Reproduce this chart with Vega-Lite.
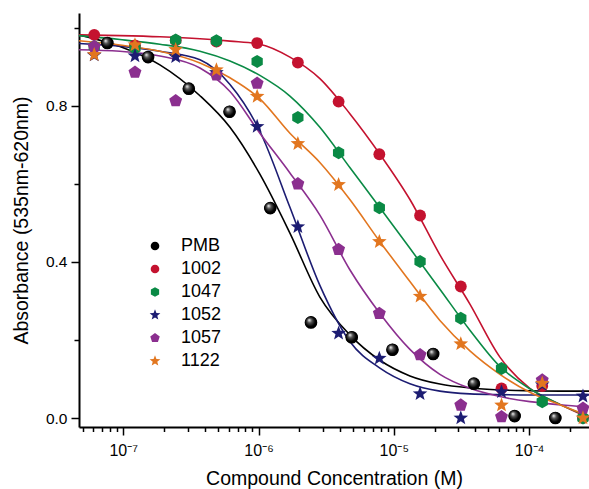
{
  "$schema": "https://vega.github.io/schema/vega-lite/v6.json",
  "width": 510,
  "height": 414,
  "autosize": {"type": "none"},
  "padding": {"left": 79, "top": 13, "right": 0, "bottom": 62},
  "background": "white",
  "config": {"view": {"stroke": null}, "font": "Liberation Sans"},
  "datasets": {
    "points": [
      {"series": "PMB", "conc": 7.629e-8, "abs": 0.961},
      {"series": "PMB", "conc": 1.526e-7, "abs": 0.925},
      {"series": "PMB", "conc": 3.052e-7, "abs": 0.844},
      {"series": "PMB", "conc": 6.104e-7, "abs": 0.785},
      {"series": "PMB", "conc": 1.221e-6, "abs": 0.538},
      {"series": "PMB", "conc": 2.441e-6, "abs": 0.245},
      {"series": "PMB", "conc": 4.883e-6, "abs": 0.207},
      {"series": "PMB", "conc": 9.766e-6, "abs": 0.175},
      {"series": "PMB", "conc": 1.953e-5, "abs": 0.164},
      {"series": "PMB", "conc": 3.906e-5, "abs": 0.088},
      {"series": "PMB", "conc": 7.8125e-5, "abs": 0.005},
      {"series": "PMB", "conc": 1.5625e-4, "abs": 0.0},
      {"series": "1002", "conc": 6.104e-8, "abs": 0.982},
      {"series": "1002", "conc": 1.221e-7, "abs": 0.955},
      {"series": "1002", "conc": 2.441e-7, "abs": 0.968},
      {"series": "1002", "conc": 4.883e-7, "abs": 0.965},
      {"series": "1002", "conc": 9.766e-7, "abs": 0.961},
      {"series": "1002", "conc": 1.953e-6, "abs": 0.911},
      {"series": "1002", "conc": 3.906e-6, "abs": 0.811},
      {"series": "1002", "conc": 7.8125e-6, "abs": 0.676},
      {"series": "1002", "conc": 1.5625e-5, "abs": 0.519},
      {"series": "1002", "conc": 3.125e-5, "abs": 0.337},
      {"series": "1002", "conc": 6.25e-5, "abs": 0.076},
      {"series": "1002", "conc": 1.25e-4, "abs": 0.082},
      {"series": "1002", "conc": 2.5e-4, "abs": 0.0},
      {"series": "1047", "conc": 6.104e-8, "abs": 0.952},
      {"series": "1047", "conc": 1.221e-7, "abs": 0.948},
      {"series": "1047", "conc": 2.441e-7, "abs": 0.969},
      {"series": "1047", "conc": 4.883e-7, "abs": 0.967},
      {"series": "1047", "conc": 9.766e-7, "abs": 0.914},
      {"series": "1047", "conc": 1.953e-6, "abs": 0.770},
      {"series": "1047", "conc": 3.906e-6, "abs": 0.680},
      {"series": "1047", "conc": 7.8125e-6, "abs": 0.539},
      {"series": "1047", "conc": 1.5625e-5, "abs": 0.401},
      {"series": "1047", "conc": 3.125e-5, "abs": 0.256},
      {"series": "1047", "conc": 6.25e-5, "abs": 0.127},
      {"series": "1047", "conc": 1.25e-4, "abs": 0.042},
      {"series": "1047", "conc": 2.5e-4, "abs": 0.0},
      {"series": "1052", "conc": 6.104e-8, "abs": 0.930},
      {"series": "1052", "conc": 1.221e-7, "abs": 0.928},
      {"series": "1052", "conc": 2.441e-7, "abs": 0.926},
      {"series": "1052", "conc": 4.883e-7, "abs": 0.885},
      {"series": "1052", "conc": 9.766e-7, "abs": 0.747},
      {"series": "1052", "conc": 1.953e-6, "abs": 0.490},
      {"series": "1052", "conc": 3.906e-6, "abs": 0.217},
      {"series": "1052", "conc": 7.8125e-6, "abs": 0.153},
      {"series": "1052", "conc": 1.5625e-5, "abs": 0.062},
      {"series": "1052", "conc": 3.125e-5, "abs": 0.0},
      {"series": "1052", "conc": 6.25e-5, "abs": 0.067},
      {"series": "1052", "conc": 1.25e-4, "abs": 0.085},
      {"series": "1052", "conc": 2.5e-4, "abs": 0.056},
      {"series": "1057", "conc": 6.104e-8, "abs": 0.952},
      {"series": "1057", "conc": 1.221e-7, "abs": 0.886},
      {"series": "1057", "conc": 2.441e-7, "abs": 0.813},
      {"series": "1057", "conc": 4.883e-7, "abs": 0.879},
      {"series": "1057", "conc": 9.766e-7, "abs": 0.858},
      {"series": "1057", "conc": 1.953e-6, "abs": 0.600},
      {"series": "1057", "conc": 3.906e-6, "abs": 0.432},
      {"series": "1057", "conc": 7.8125e-6, "abs": 0.268},
      {"series": "1057", "conc": 1.5625e-5, "abs": 0.162},
      {"series": "1057", "conc": 3.125e-5, "abs": 0.033},
      {"series": "1057", "conc": 6.25e-5, "abs": 0.003},
      {"series": "1057", "conc": 1.25e-4, "abs": 0.097},
      {"series": "1057", "conc": 2.5e-4, "abs": 0.025},
      {"series": "1122", "conc": 6.104e-8, "abs": 0.931},
      {"series": "1122", "conc": 1.221e-7, "abs": 0.956},
      {"series": "1122", "conc": 2.441e-7, "abs": 0.944},
      {"series": "1122", "conc": 4.883e-7, "abs": 0.892},
      {"series": "1122", "conc": 9.766e-7, "abs": 0.824},
      {"series": "1122", "conc": 1.953e-6, "abs": 0.703},
      {"series": "1122", "conc": 3.906e-6, "abs": 0.598},
      {"series": "1122", "conc": 7.8125e-6, "abs": 0.452},
      {"series": "1122", "conc": 1.5625e-5, "abs": 0.312},
      {"series": "1122", "conc": 3.125e-5, "abs": 0.190},
      {"series": "1122", "conc": 6.25e-5, "abs": 0.033},
      {"series": "1122", "conc": 1.25e-4, "abs": 0.089},
      {"series": "1122", "conc": 2.5e-4, "abs": 0.0}
    ],
    "curves": [
      {"series": "PMB", "conc": 4.71e-8, "abs": 0.982},
      {"series": "PMB", "conc": 9.46e-8, "abs": 0.952},
      {"series": "PMB", "conc": 1.866e-7, "abs": 0.905},
      {"series": "PMB", "conc": 3.69e-7, "abs": 0.826},
      {"series": "PMB", "conc": 6.15e-7, "abs": 0.745},
      {"series": "PMB", "conc": 1.023e-6, "abs": 0.625},
      {"series": "PMB", "conc": 1.706e-6, "abs": 0.474},
      {"series": "PMB", "conc": 2.84e-6, "abs": 0.31},
      {"series": "PMB", "conc": 4.73e-6, "abs": 0.213},
      {"series": "PMB", "conc": 7.89e-6, "abs": 0.148},
      {"series": "PMB", "conc": 1.315e-5, "abs": 0.108},
      {"series": "PMB", "conc": 2.19e-5, "abs": 0.087},
      {"series": "PMB", "conc": 3.65e-5, "abs": 0.077},
      {"series": "PMB", "conc": 6.08e-5, "abs": 0.072},
      {"series": "PMB", "conc": 1.012e-4, "abs": 0.070},
      {"series": "PMB", "conc": 1.687e-4, "abs": 0.069},
      {"series": "PMB", "conc": 2.77e-4, "abs": 0.069},
      {"series": "1002", "conc": 4.71e-8, "abs": 0.982},
      {"series": "1002", "conc": 9.46e-8, "abs": 0.98},
      {"series": "1002", "conc": 1.866e-7, "abs": 0.977},
      {"series": "1002", "conc": 3.69e-7, "abs": 0.972},
      {"series": "1002", "conc": 6.15e-7, "abs": 0.966},
      {"series": "1002", "conc": 1.023e-6, "abs": 0.958},
      {"series": "1002", "conc": 1.706e-6, "abs": 0.925},
      {"series": "1002", "conc": 2.84e-6, "abs": 0.87},
      {"series": "1002", "conc": 4.73e-6, "abs": 0.78},
      {"series": "1002", "conc": 7.89e-6, "abs": 0.676},
      {"series": "1002", "conc": 1.315e-5, "abs": 0.56},
      {"series": "1002", "conc": 2.19e-5, "abs": 0.418},
      {"series": "1002", "conc": 3.65e-5, "abs": 0.292},
      {"series": "1002", "conc": 6.08e-5, "abs": 0.156},
      {"series": "1002", "conc": 1.012e-4, "abs": 0.076},
      {"series": "1002", "conc": 1.687e-4, "abs": 0.035},
      {"series": "1002", "conc": 2.77e-4, "abs": 0.0},
      {"series": "1047", "conc": 4.71e-8, "abs": 0.98},
      {"series": "1047", "conc": 9.46e-8, "abs": 0.97},
      {"series": "1047", "conc": 1.866e-7, "abs": 0.958},
      {"series": "1047", "conc": 3.69e-7, "abs": 0.94},
      {"series": "1047", "conc": 6.15e-7, "abs": 0.915},
      {"series": "1047", "conc": 1.023e-6, "abs": 0.878},
      {"series": "1047", "conc": 1.706e-6, "abs": 0.825},
      {"series": "1047", "conc": 2.84e-6, "abs": 0.745},
      {"series": "1047", "conc": 4.73e-6, "abs": 0.642},
      {"series": "1047", "conc": 7.89e-6, "abs": 0.539},
      {"series": "1047", "conc": 1.315e-5, "abs": 0.435},
      {"series": "1047", "conc": 2.19e-5, "abs": 0.33},
      {"series": "1047", "conc": 3.65e-5, "abs": 0.225},
      {"series": "1047", "conc": 6.08e-5, "abs": 0.132},
      {"series": "1047", "conc": 1.012e-4, "abs": 0.075},
      {"series": "1047", "conc": 1.687e-4, "abs": 0.035},
      {"series": "1047", "conc": 2.77e-4, "abs": 0.003},
      {"series": "1052", "conc": 4.71e-8, "abs": 0.96},
      {"series": "1052", "conc": 9.46e-8, "abs": 0.953},
      {"series": "1052", "conc": 1.866e-7, "abs": 0.94},
      {"series": "1052", "conc": 3.69e-7, "abs": 0.918},
      {"series": "1052", "conc": 6.15e-7, "abs": 0.855},
      {"series": "1052", "conc": 1.023e-6, "abs": 0.735},
      {"series": "1052", "conc": 1.706e-6, "abs": 0.54},
      {"series": "1052", "conc": 2.84e-6, "abs": 0.34},
      {"series": "1052", "conc": 4.73e-6, "abs": 0.196},
      {"series": "1052", "conc": 7.89e-6, "abs": 0.128},
      {"series": "1052", "conc": 1.315e-5, "abs": 0.088},
      {"series": "1052", "conc": 2.19e-5, "abs": 0.069},
      {"series": "1052", "conc": 3.65e-5, "abs": 0.062},
      {"series": "1052", "conc": 6.08e-5, "abs": 0.06},
      {"series": "1052", "conc": 1.012e-4, "abs": 0.059},
      {"series": "1052", "conc": 1.687e-4, "abs": 0.059},
      {"series": "1052", "conc": 2.77e-4, "abs": 0.059},
      {"series": "1057", "conc": 4.71e-8, "abs": 0.944},
      {"series": "1057", "conc": 9.46e-8, "abs": 0.94},
      {"series": "1057", "conc": 1.866e-7, "abs": 0.928},
      {"series": "1057", "conc": 3.69e-7, "abs": 0.897},
      {"series": "1057", "conc": 6.15e-7, "abs": 0.837},
      {"series": "1057", "conc": 1.023e-6, "abs": 0.73},
      {"series": "1057", "conc": 1.706e-6, "abs": 0.628},
      {"series": "1057", "conc": 2.84e-6, "abs": 0.52},
      {"series": "1057", "conc": 4.73e-6, "abs": 0.38},
      {"series": "1057", "conc": 7.89e-6, "abs": 0.268},
      {"series": "1057", "conc": 1.315e-5, "abs": 0.176},
      {"series": "1057", "conc": 2.19e-5, "abs": 0.112},
      {"series": "1057", "conc": 3.65e-5, "abs": 0.076},
      {"series": "1057", "conc": 6.08e-5, "abs": 0.055},
      {"series": "1057", "conc": 1.012e-4, "abs": 0.042},
      {"series": "1057", "conc": 1.687e-4, "abs": 0.034},
      {"series": "1057", "conc": 2.77e-4, "abs": 0.028},
      {"series": "1122", "conc": 4.71e-8, "abs": 0.967},
      {"series": "1122", "conc": 9.46e-8, "abs": 0.956},
      {"series": "1122", "conc": 1.866e-7, "abs": 0.94},
      {"series": "1122", "conc": 3.69e-7, "abs": 0.91},
      {"series": "1122", "conc": 6.15e-7, "abs": 0.872},
      {"series": "1122", "conc": 1.023e-6, "abs": 0.818},
      {"series": "1122", "conc": 1.706e-6, "abs": 0.73},
      {"series": "1122", "conc": 2.84e-6, "abs": 0.655},
      {"series": "1122", "conc": 4.73e-6, "abs": 0.56},
      {"series": "1122", "conc": 7.89e-6, "abs": 0.452},
      {"series": "1122", "conc": 1.315e-5, "abs": 0.35},
      {"series": "1122", "conc": 2.19e-5, "abs": 0.25},
      {"series": "1122", "conc": 3.65e-5, "abs": 0.172},
      {"series": "1122", "conc": 6.08e-5, "abs": 0.112},
      {"series": "1122", "conc": 1.012e-4, "abs": 0.066},
      {"series": "1122", "conc": 1.687e-4, "abs": 0.034},
      {"series": "1122", "conc": 2.77e-4, "abs": 0.005}
    ]
  },
  "resolve": {"scale": {"stroke": "independent"}},
  "layer": [
    {
      "data": {"name": "curves"},
      "mark": {"type": "line", "interpolate": "monotone", "strokeWidth": 1.6},
      "encoding": {
        "x": {
          "field": "conc", "type": "quantitative",
          "scale": {"type": "log", "domain": [4.71e-8, 2.77e-4], "nice": false},
          "axis": {
            "title": "Compound Concentration (M)",
            "titleFont": "Liberation Sans", "titleFontSize": 19.5, "titleFontWeight": "normal", "titleColor": "#000", "titlePadding": 11,
            "values": [5e-8, 6e-8, 7e-8, 8e-8, 9e-8, 1e-7, 2e-7, 3e-7, 4e-7, 5e-7, 6e-7, 7e-7, 8e-7, 9e-7, 1e-6, 2e-6, 3e-6, 4e-6, 5e-6, 6e-6, 7e-6, 8e-6, 9e-6, 1e-5, 2e-5, 3e-5, 4e-5, 5e-5, 6e-5, 7e-5, 8e-5, 9e-5, 1e-4, 2e-4],
            "labelExpr": "round(log(datum.value)/LN10*1000) == -7000 ? '10⁻⁷' : round(log(datum.value)/LN10*1000) == -6000 ? '10⁻⁶' : round(log(datum.value)/LN10*1000) == -5000 ? '10⁻⁵' : round(log(datum.value)/LN10*1000) == -4000 ? '10⁻⁴' : ''",
            "labelFont": "Liberation Sans", "labelFontSize": 16, "labelColor": "#000", "labelPadding": 7, "labelOverlap": false, "labelFlush": false,
            "tickSize": {"condition": {"test": "abs(log(datum.value)/LN10 - round(log(datum.value)/LN10)) < 0.001", "value": 8}, "value": 4.5},
            "tickWidth": 1.5, "tickColor": "#000", "domainColor": "#000", "domainWidth": 2, "grid": false
          }
        },
        "y": {
          "field": "abs", "type": "quantitative",
          "scale": {"domain": [-0.023, 1.038], "nice": false, "zero": false},
          "axis": {
            "title": "Absorbance (535nm-620nm)",
            "titleFont": "Liberation Sans", "titleFontSize": 19.5, "titleFontWeight": "normal", "titleColor": "#000", "titlePadding": 14,
            "values": [0, 0.2, 0.4, 0.6, 0.8, 1.0],
            "labelExpr": "datum.value == 0 || datum.value == 0.4 || datum.value == 0.8 ? format(datum.value, '.1f') : ''",
            "labelFont": "Liberation Sans", "labelFontSize": 15.5, "labelColor": "#000", "labelPadding": 4, "labelOverlap": false,
            "tickSize": {"condition": {"test": "datum.value == 0 || datum.value == 0.4 || datum.value == 0.8", "value": 8}, "value": 5},
            "tickWidth": 1.5, "tickColor": "#000", "domainColor": "#000", "domainWidth": 2, "grid": false
          }
        },
        "stroke": {
          "field": "series", "type": "nominal",
          "scale": {"domain": ["PMB", "1002", "1047", "1052", "1057", "1122"], "range": ["#000000", "#c4122f", "#0a8a45", "#1c1c72", "#8b2f8f", "#e2761f"]},
          "legend": null
        }
      }
    },
    {
      "data": {"name": "points"},
      "mark": {"type": "point", "filled": true, "opacity": 1, "size": 140},
      "encoding": {
        "x": {"field": "conc", "type": "quantitative"},
        "y": {"field": "abs", "type": "quantitative"},
        "color": {
          "field": "series", "type": "nominal",
          "scale": {"domain": ["PMB", "1002", "1047", "1052", "1057", "1122"], "range": ["#000000", "#c4122f", "#0a8a45", "#1c1c72", "#8b2f8f", "#e2761f"]},
          "legend": {
            "orient": "none", "legendX": 67, "legendY": 224, "title": null, "padding": 0,
            "labelFont": "Liberation Sans", "labelFontSize": 18, "labelColor": "#000", "labelOffset": 17,
            "symbolSize": 75, "rowPadding": 5, "symbolStrokeWidth": 0
          }
        },
        "shape": {
          "field": "series", "type": "nominal",
          "scale": {"domain": ["PMB", "1002", "1047", "1052", "1057", "1122"], "range": ["circle", "circle", "M0,-1.1L0.953,-0.55L0.953,0.55L0,1.1L-0.953,0.55L-0.953,-0.55Z", "M0,-1.3L0.323,-0.445L1.236,-0.402L0.523,0.17L0.764,1.052L0,0.55L-0.764,1.052L-0.523,0.17L-1.236,-0.402L-0.323,-0.445Z", "M0,-1.15L1.094,-0.355L0.676,0.93L-0.676,0.93L-1.094,-0.355Z", "M0,-1.3L0.323,-0.445L1.236,-0.402L0.523,0.17L0.764,1.052L0,0.55L-0.764,1.052L-0.523,0.17L-1.236,-0.402L-0.323,-0.445Z"]},
          "legend": {
            "orient": "none", "legendX": 67, "legendY": 224, "title": null, "padding": 0,
            "labelFont": "Liberation Sans", "labelFontSize": 18, "labelColor": "#000", "labelOffset": 17,
            "symbolSize": 75, "rowPadding": 5, "symbolStrokeWidth": 0
          }
        }
      }
    },
    {
      "data": {"name": "points"},
      "transform": [{"filter": "datum.series == 'PMB'"}],
      "mark": {
        "type": "point", "shape": "circle", "size": 160, "opacity": 1, "strokeWidth": 0,
        "fill": {"gradient": "radial", "x1": 0.35, "y1": 0.3, "r1": 0, "x2": 0.5, "y2": 0.5, "r2": 0.6,
          "stops": [{"offset": 0, "color": "#ffffff"}, {"offset": 0.3, "color": "#555555"}, {"offset": 0.65, "color": "#000000"}, {"offset": 1, "color": "#000000"}]}
      },
      "encoding": {
        "x": {"field": "conc", "type": "quantitative"},
        "y": {"field": "abs", "type": "quantitative"}
      }
    }
  ]
}
